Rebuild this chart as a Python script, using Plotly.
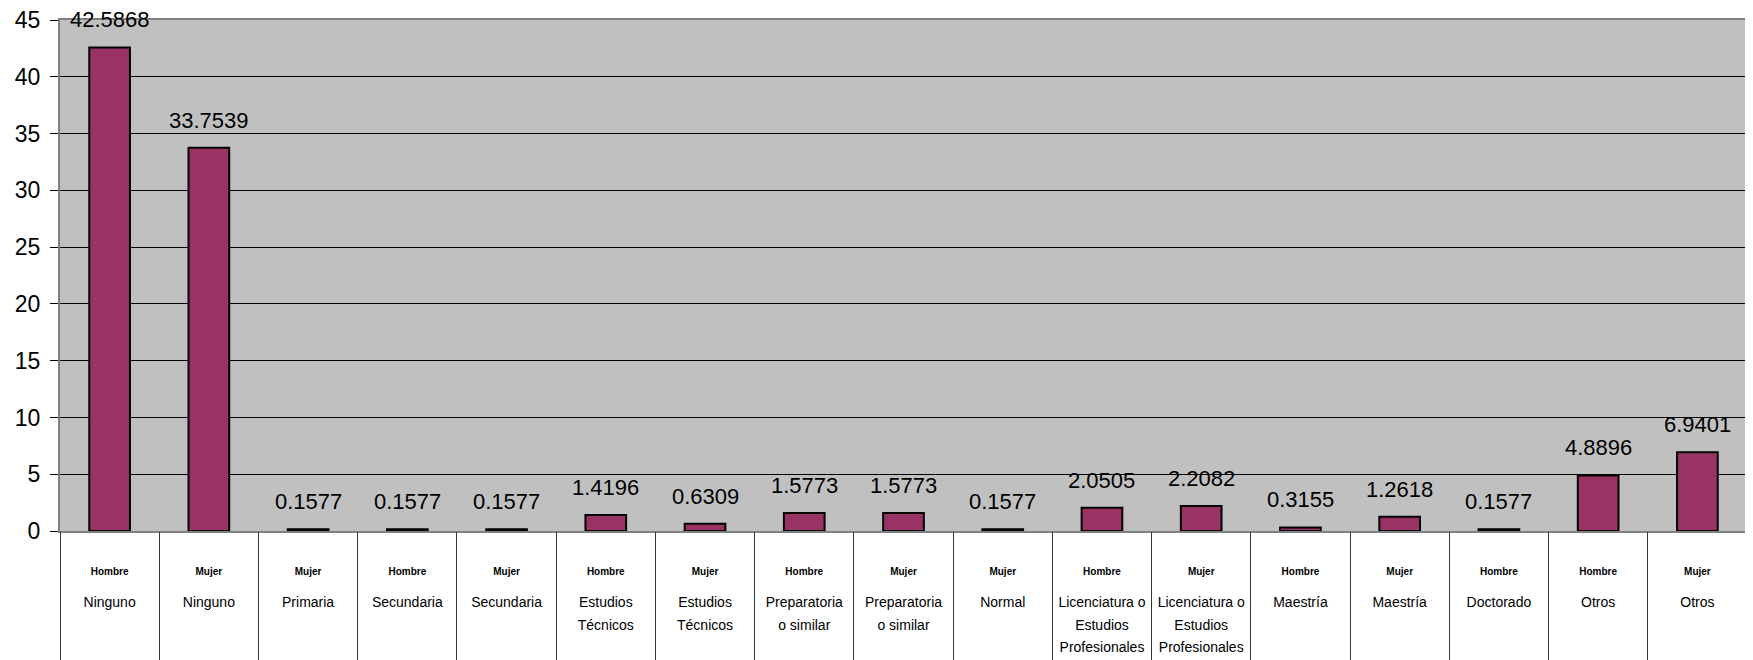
import plotly.graph_objects as go

# datos: porcentaje por nivel de estudios y sexo
sexo = ["Hombre", "Mujer", "Mujer", "Hombre", "Mujer", "Hombre", "Mujer", "Hombre", "Mujer",
        "Mujer", "Hombre", "Mujer", "Hombre", "Mujer", "Hombre", "Hombre", "Mujer"]
nivel = ["Ninguno", "Ninguno", "Primaria", "Secundaria", "Secundaria",
         "Estudios<br>Técnicos", "Estudios<br>Técnicos",
         "Preparatoria<br>o similar", "Preparatoria<br>o similar", "Normal",
         "Licenciatura o<br>Estudios<br>Profesionales", "Licenciatura o<br>Estudios<br>Profesionales",
         "Maestría", "Maestría", "Doctorado", "Otros", "Otros"]
valores = [42.5868, 33.7539, 0.1577, 0.1577, 0.1577, 1.4196, 0.6309, 1.5773, 1.5773,
           0.1577, 2.0505, 2.2082, 0.3155, 1.2618, 0.1577, 4.8896, 6.9401]

FUENTE = "Arial, Liberation Sans, sans-serif"

# categorias unicas (sexo + nivel) y sus etiquetas
categorias = [f"{s} {n}" for s, n in zip(sexo, nivel)]
etiq_nivel = ["<br>".join(f"<span style='font-size:14px'>{l}</span>" for l in n.split("<br>")) for n in nivel]
etiq_sexo = [f"<b>{s}</b>" for s in sexo]

fig = go.Figure()
fig.add_trace(go.Bar(x=categorias, y=valores, marker=dict(color="#993366", line=dict(color="black", width=2)),
                     hoverinfo="skip", showlegend=False))
# trazas invisibles para los ejes auxiliares (divisiones y sexo)
fig.add_trace(go.Bar(x=categorias, y=valores, xaxis="x2", opacity=0, hoverinfo="skip", showlegend=False))
fig.add_trace(go.Bar(x=categorias, y=valores, xaxis="x3", opacity=0, hoverinfo="skip", showlegend=False))

# etiquetas de datos
for c, v in zip(categorias, valores):
    fig.add_annotation(x=c, y=v, text=str(v), showarrow=False, yanchor="bottom", yshift=13,
                       font=dict(family=FUENTE, size=22, color="black"))

fig.update_layout(
    width=1745, height=652,
    margin=dict(l=52, r=6, t=12, b=129),
    paper_bgcolor="white",
    plot_bgcolor="#C0C0C0",
    bargap=0.59,
    font=dict(family=FUENTE, color="black"),
    xaxis=dict(tickmode="array", tickvals=categorias, ticktext=etiq_nivel, ticks="",
               tickfont=dict(size=17), ticklabelstandoff=54, automargin=False,
               showline=True, linecolor="#808080", linewidth=2, mirror=True, showgrid=False),
    xaxis2=dict(overlaying="x", side="bottom", tickson="boundaries", ticks="outside", ticklen=130,
                tickcolor="#333333", tickwidth=1, showticklabels=False, showgrid=False, showline=False,
                automargin=False),
    xaxis3=dict(overlaying="x", side="bottom", tickmode="array", tickvals=categorias, ticktext=etiq_sexo,
                ticks="", tickfont=dict(size=10), ticklabelstandoff=33, showgrid=False, showline=False,
                automargin=False),
    yaxis=dict(range=[0, 45], dtick=5, ticks="outside", ticklen=8, tickcolor="black",
               tickfont=dict(size=23), ticklabelstandoff=5, automargin=False, ticklabeloverflow="allow",
               gridcolor="black", gridwidth=1, zeroline=True, zerolinecolor="black", zerolinewidth=1,
               showline=True, linecolor="#808080", linewidth=2, mirror=True),
)

fig.write_html("out.html")
